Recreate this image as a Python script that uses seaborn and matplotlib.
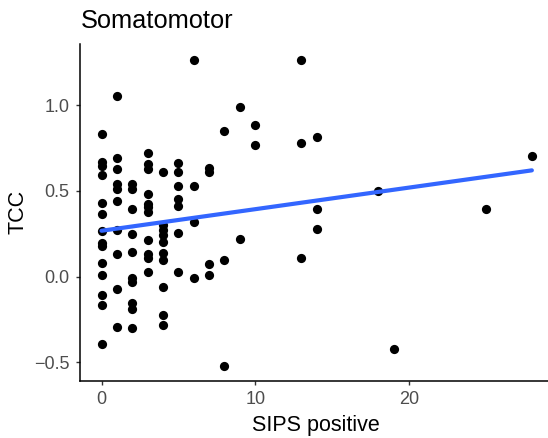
import matplotlib
matplotlib.use("Agg")
import matplotlib.pyplot as plt
import seaborn as sns
import pandas as pd

sips = ([0]*14 + [1]*10 + [2]*10 + [3]*11 + [4]*10 + [5]*7 + [6]*4 + [7]*4 +
        [8]*3 + [9]*2 + [10]*2 + [13]*3 + [14]*3 + [18, 19, 25, 28])
tcc = [
    # 0
    0.83, 0.667, 0.648, 0.595, 0.428, 0.366, 0.268, 0.198, 0.181, 0.082, 0.012, -0.108, -0.165, -0.392,
    # 1
    1.054, 0.69, 0.626, 0.54, 0.51, 0.443, 0.272, 0.131, -0.07, -0.295,
    # 2
    0.54, 0.51, 0.395, 0.249, 0.142, -0.009, -0.029, -0.155, -0.187, -0.297,
    # 3
    0.723, 0.655, 0.626, 0.482, 0.424, 0.405, 0.379, 0.214, 0.131, 0.107, 0.029,
    # 4
    0.612, 0.301, 0.272, 0.243, 0.204, 0.14, 0.097, -0.058, -0.225, -0.282,
    # 5
    0.661, 0.609, 0.529, 0.451, 0.412, 0.253, 0.027,
    # 6
    1.264, 0.531, 0.321, -0.006,
    # 7
    0.632, 0.609, 0.072, 0.008,
    # 8
    0.851, 0.097, -0.521,
    # 9
    0.99, 0.22,
    # 10
    0.885, 0.766,
    # 13
    1.262, 0.78, 0.111,
    # 14
    0.813, 0.395, 0.28,
    # 18, 19, 25, 28
    0.5, -0.423, 0.395, 0.704,
]
x_ticks = [0, 10, 20]
y_ticks = [-0.5, 0.0, 0.5, 1.0]
y_tick_labels = ["\u22120.5", "0.0", "0.5", "1.0"]

df = pd.DataFrame({"SIPS positive": sips, "TCC": tcc})

sns.set_theme(style="white")
plt.rcParams["font.family"] = ["Liberation Sans", "DejaVu Sans"]

W, H = 548, 438
fig = plt.figure(figsize=(W / 100, H / 100), dpi=100)
fig.patch.set_facecolor("white")
ax = fig.add_axes([80 / W, 57 / H, 468 / W, (381 - 44.3) / H])

sns.scatterplot(data=df, x="SIPS positive", y="TCC", ax=ax, color="black",
                s=44, linewidth=0, edgecolor=None, zorder=2)
sns.regplot(data=df, x="SIPS positive", y="TCC", ax=ax, scatter=False, ci=None,
            truncate=True, line_kws={"color": "#3366FF", "linewidth": 3, "zorder": 3})

ax.set_xlim(-1.4, 29.05)
ax.set_ylim(-0.608, 1.355)
ax.set_xticks(x_ticks)
ax.set_xticklabels([str(t) for t in x_ticks])
ax.set_yticks(y_ticks)
ax.set_yticklabels(y_tick_labels)

for side in ["top", "right"]:
    ax.spines[side].set_visible(False)
for side in ["left", "bottom"]:
    ax.spines[side].set_color("black")
    ax.spines[side].set_linewidth(1.1)

ax.tick_params(axis="both", which="major", length=3.2, width=1.0, color="#333333",
               labelsize=13, labelcolor="#4D4D4D", bottom=True, left=True)
ax.tick_params(axis="y", pad=4.5)
ax.tick_params(axis="x", pad=4.0)

ax.set_xlabel("")
ax.set_ylabel("")
fig.text(316 / W, 1 - 431 / H, "SIPS positive", ha="center", va="baseline",
         fontsize=15.5, color="black")
fig.text(18 / W, 1 - 212 / H, "TCC", ha="center", va="center", rotation=90,
         fontsize=15.5, color="black")
fig.text(81 / W, 1 - 27.5 / H, "Somatomotor", ha="left", va="baseline",
         fontsize=18.3, color="black")

fig.savefig("out.png", dpi=100, facecolor="white")
